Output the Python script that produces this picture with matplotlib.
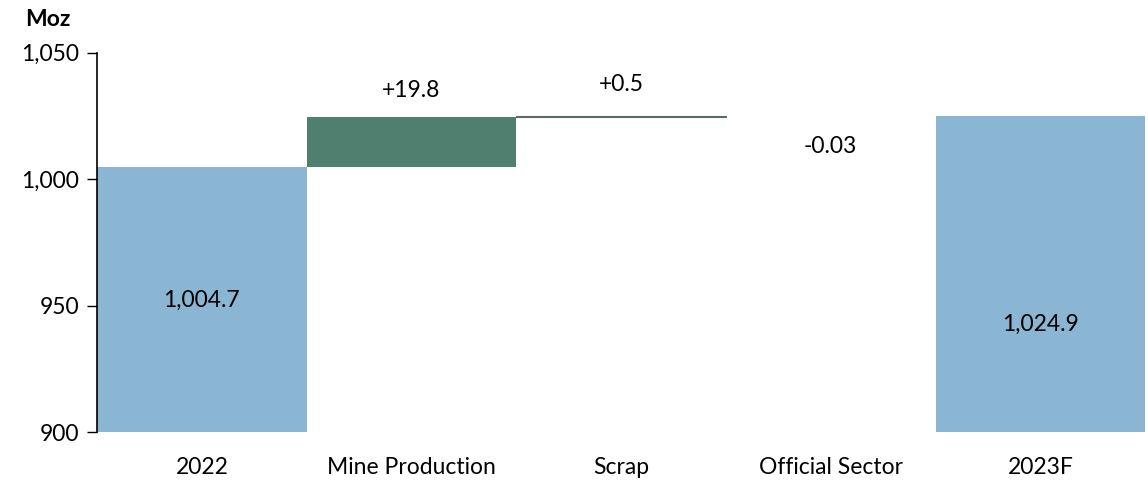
import matplotlib
matplotlib.use("Agg")
import matplotlib.pyplot as plt
from matplotlib.ticker import FuncFormatter

plt.rcParams['font.family'] = ['Lato', 'DejaVu Sans']

categories = ["2022", "Mine Production", "Scrap", "Official Sector", "2023F"]
start_total = 1004.7
changes = [19.8, 0.5, -0.03]
end_total = 1024.9
change_labels = ["+19.8", "+0.5", "-0.03"]
total_labels = ["1,004.7", "1,024.9"]

blue = "#8ab6d3"
green = "#4f7f6f"
fs = 16.5

fig = plt.figure(figsize=(11.48, 5.03), dpi=100)
ax = fig.add_axes([0.0845, 0.141, 0.913, 0.754])

y0 = 900
# totals
ax.bar(0, start_total - y0, bottom=y0, width=1.0, color=blue)
ax.bar(4, end_total - y0, bottom=y0, width=1.0, color=blue)

# floating changes
level = start_total
for i, d in enumerate(changes, start=1):
    bottom = level if d >= 0 else level + d
    thin = 0.1 <= abs(d) < 2
    ax.bar(i, abs(d), bottom=bottom, width=1.0, color=green,
           edgecolor="#5a6a64" if thin else "none", linewidth=0.8 if thin else 0)
    level += d

# change labels
lvl = start_total
offsets = [10.5, 12.5, -12.0]
for i, (d, lab) in enumerate(zip(changes, change_labels), start=1):
    top = lvl + max(d, 0)
    ax.text(i, top + offsets[i - 1], lab, ha="center", va="center", fontsize=fs)
    lvl += d

ax.text(0, 952, total_labels[0], ha="center", va="center", fontsize=fs)
ax.text(4, 942.5, total_labels[1], ha="center", va="center", fontsize=fs)

ax.set_xlim(-0.5, 4.5)
ax.set_ylim(900, 1050)
ax.set_yticks([900, 950, 1000, 1050])
ax.yaxis.set_major_formatter(FuncFormatter(lambda v, p: f"{v:,.0f}"))
ax.set_xticks(range(len(categories)))
ax.set_xticklabels(categories)
ax.tick_params(axis="x", length=0, pad=18, labelsize=fs)
ax.tick_params(axis="y", length=7, width=1, pad=6, labelsize=fs, direction="out")
for s in ["top", "right", "bottom"]:
    ax.spines[s].set_visible(False)
ax.spines["left"].set_linewidth(1.2)

fig.text(0.022, 0.961, "Moz", fontsize=fs, fontweight="bold", ha="left", va="center")

fig.savefig("out.png", dpi=100)
